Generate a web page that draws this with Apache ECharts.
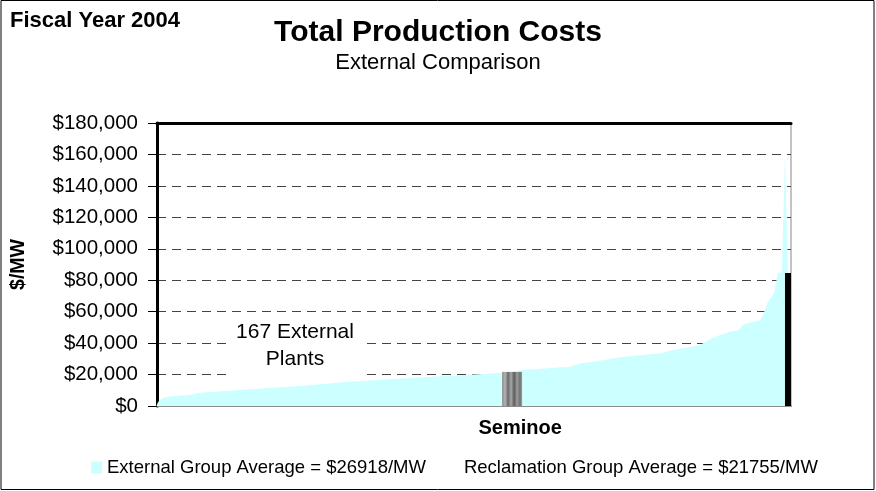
<!DOCTYPE html>
<html>
<head>
<meta charset="utf-8">
<script src="https://cdn.jsdelivr.net/npm/echarts@6/dist/echarts.min.js"></script>
<style>
	html, body { margin: 0; padding: 0; background: #fff; }
	#chart { width: 876px; height: 491px; }
</style>
</head>
<body>
<div id="chart"></div>
<script type="text/javascript">
	// plants sorted by cost, rank along the x axis ($/MW)
	var extRank = [0, 0.3, 0.8, 2.1, 4.8, 8.7, 11.4, 24.6, 37.9, 51.1, 68.9, 86.4, 90.9, 94.1, 96.7,
		109.4, 112.1, 117.4, 122.7, 128.0, 133.3, 135.9, 143.9, 146.5, 149.2, 151.8, 153.9, 155.3,
		157.1, 159.8, 160.6, 161.9, 163.5, 164.5, 165.6, 166.4, 166.9, 167.2];
	var extCost = [1000, 2500, 3800, 5500, 6400, 7000, 8500, 10600, 12700, 15500, 18200, 20400, 21200, 21500, 22900,
		25000, 27100, 28800, 31000, 32200, 33500, 35200, 38800, 42400, 45200, 47300, 48000, 51500,
		53000, 54700, 57900, 66400, 71700, 84400, 85000, 160000, 110000, 85000];
	var seminoeRank = [94.1];
	var seminoeCost = [21700];
	var lastRank = [167.2];
	var lastCost = [84600];
	var yMax = 180000;
	var yStep = 20000;
	var extName = 'External Group Average = $26918/MW';
	var recName = 'Reclamation Group Average = $21755/MW';

	var font = 'Liberation Sans, Arial, sans-serif';
	var myChart = echarts.init(document.getElementById('chart'));

	var extData = extRank.map(function(r, i){ return [r, extCost[i]]; });
	var semData = seminoeRank.map(function(r, i){ return [r, seminoeCost[i]]; });
	var lastData = lastRank.map(function(r, i){ return [r, lastCost[i]]; });

	var option = {
		animation : false,
		textStyle : { fontFamily : font, color : '#000' },
		title : [{
			text : 'Total Production Costs',
			left : 'center',
			top : 13,
			textStyle : { fontSize : 30, fontWeight : 'bold', color : '#000', fontFamily : font }
		}, {
			text : 'External Comparison',
			left : 'center',
			top : 47,
			textStyle : { fontSize : 22, fontWeight : 'normal', color : '#000', fontFamily : font }
		}, {
			text : 'Fiscal Year 2004',
			left : 5,
			top : 5,
			textStyle : { fontSize : 22, fontWeight : 'bold', color : '#000', fontFamily : font }
		}],
		legend : {
			left : 86,
			top : 453,
			itemWidth : 11,
			itemHeight : 12,
			itemGap : 22,
			selectedMode : false,
			textStyle : { fontSize : 18.5, color : '#000', fontFamily : font },
			data : [
				{ name : extName, icon : 'rect' },
				{ name : recName, icon : 'none' }
			]
		},
		grid : {
			left : 157,
			right : 85,
			top : 123,
			bottom : 85,
			show : true,
			borderColor : '#888',
			borderWidth : 1
		},
		xAxis : [{
			type : 'value',
			min : 0,
			max : 168,
			axisLine : { show : true, lineStyle : { color : '#8c8c8c', width : 2 } },
			axisTick : { show : false },
			axisLabel : { show : false },
			splitLine : { show : false }
		}, {
			type : 'value',
			position : 'top',
			min : 0,
			max : 168,
			axisLine : { show : true, lineStyle : { color : '#000', width : 3 } },
			axisTick : { show : false },
			axisLabel : { show : false },
			splitLine : { show : false }
		}],
		yAxis : {
			type : 'value',
			min : 0,
			max : yMax,
			interval : yStep,
			name : '$/MW',
			nameLocation : 'middle',
			nameRotate : 90,
			nameGap : 128,
			nameTextStyle : { fontSize : 19.5, fontWeight : 'bold', color : '#000', fontFamily : font },
			axisLine : { show : true, lineStyle : { color : '#000', width : 3 } },
			axisTick : { show : true, length : 9, lineStyle : { color : '#000', width : 1 } },
			axisLabel : {
				margin : 19,
				fontSize : 20.5,
				color : '#000',
				fontFamily : font,
				formatter : function(value){
					return '$' + value.toString().replace(/\B(?=(\d{3})+(?!\d))/g, ',');
				}
			},
			splitLine : { show : true, lineStyle : { color : '#444', type : [9, 6], width : 1 } }
		},
		series : [{
			name : extName,
			type : 'line',
			data : extData,
			symbol : 'none',
			lineStyle : { width : 0 },
			itemStyle : { color : '#CCFFFF' },
			areaStyle : { color : '#CCFFFF', opacity : 1 },
			z : 3
		}, {
			name : recName,
			type : 'bar',
			data : semData,
			barWidth : 20,
			itemStyle : {
				color : new echarts.graphic.LinearGradient(0, 0, 1, 0, [
					{ offset : 0, color : '#8a8a8a' },
					{ offset : 0.15, color : '#b4b4b4' },
					{ offset : 0.3, color : '#6a6a6a' },
					{ offset : 0.45, color : '#a8a8a8' },
					{ offset : 0.6, color : '#5c5c5c' },
					{ offset : 0.75, color : '#9c9c9c' },
					{ offset : 0.9, color : '#707070' },
					{ offset : 1, color : '#a4a4a4' }
				])
			},
			label : {
				show : true,
				position : 'bottom',
				distance : 12,
				offset : [8, 0],
				formatter : 'Seminoe',
				fontSize : 20,
				fontWeight : 'bold',
				color : '#000',
				fontFamily : font
			},
			z : 4
		}, {
			// dark last bar, kept on the top axis so it is not grouped with Seminoe
			name : 'last',
			type : 'bar',
			xAxisIndex : 1,
			data : lastData,
			barWidth : 6,
			clip : false,
			itemStyle : { color : '#000' },
			z : 4
		}],
		graphic : [{
			type : 'text',
			x : 295,
			y : 319,
			z : 10,
			style : {
				text : '167 External\nPlants',
				fontSize : 21,
				fontFamily : font,
				fill : '#000',
				align : 'center',
				verticalAlign : 'top',
				lineHeight : 27,
				backgroundColor : '#fff',
				padding : [0, 7, 5, 7]
			}
		}, {
			type : 'rect',
			z : 20,
			shape : { x : 1, y : 0.5, width : 873, height : 489 },
			style : { fill : 'none', stroke : '#000', lineWidth : 1 }
		}]
	};
	myChart.setOption(option);
</script>
</body>
</html>
